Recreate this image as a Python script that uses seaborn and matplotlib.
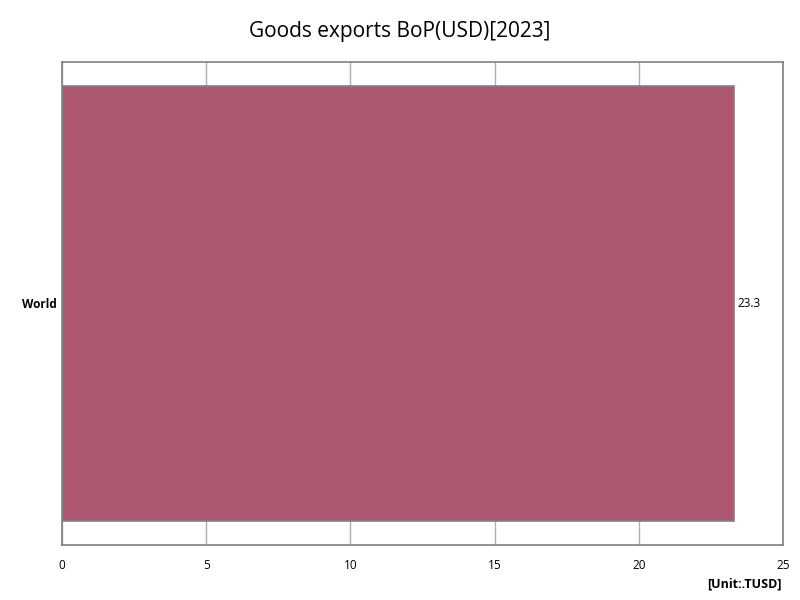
import matplotlib
matplotlib.use("Agg")
import matplotlib.pyplot as plt
import seaborn as sns
import pandas as pd

# chart data
countries = ["World"]
values = [23.3]
x_ticks = [0, 5, 10, 15, 20, 25]

df = pd.DataFrame({"country": countries, "value": values})

sns.set_style("white")
plt.rcParams['font.family'] = ['Open Sans', 'DejaVu Sans']
plt.rcParams['text.color'] = 'black'
plt.rcParams['xtick.color'] = 'black'
plt.rcParams['ytick.color'] = 'black'

fig = plt.figure(figsize=(8, 6), dpi=100)
ax = fig.add_axes([0.0775, 0.0917, 0.9015, 0.805])

sns.barplot(data=df, x="value", y="country", orient="h", width=0.9,
            color="#AD5771", saturation=1, edgecolor="#808080", linewidth=1.2, ax=ax)

ax.set_xlim(0, 25)
ax.set_ylim(0.5, -0.5)
ax.set_xticks(x_ticks)
ax.set_xticklabels([str(t) for t in x_ticks], fontsize=8.5)
ax.tick_params(axis="y", labelsize=8.5, length=0, pad=4)
ax.tick_params(axis="x", length=0, pad=10)
for lbl in ax.get_yticklabels():
    lbl.set_fontweight("bold")
ax.set_xlabel("")
ax.set_ylabel("")
ax.xaxis.grid(True, color="#b0b0b0", linewidth=1)
ax.set_axisbelow(True)
for sp in ax.spines.values():
    sp.set_color("#808080")
    sp.set_linewidth(1.2)

for i, v in enumerate(values):
    ax.text(v + 0.1, i, f"{v}", va="center", ha="left", fontsize=8.5)

fig.suptitle("Goods exports BoP(USD)[2023]", fontsize=15, y=0.965)
fig.text(0.977, 0.027, "[Unit:.TUSD]", ha="right", va="center", fontsize=9, fontweight="bold")

fig.savefig("out.png", dpi=100)
